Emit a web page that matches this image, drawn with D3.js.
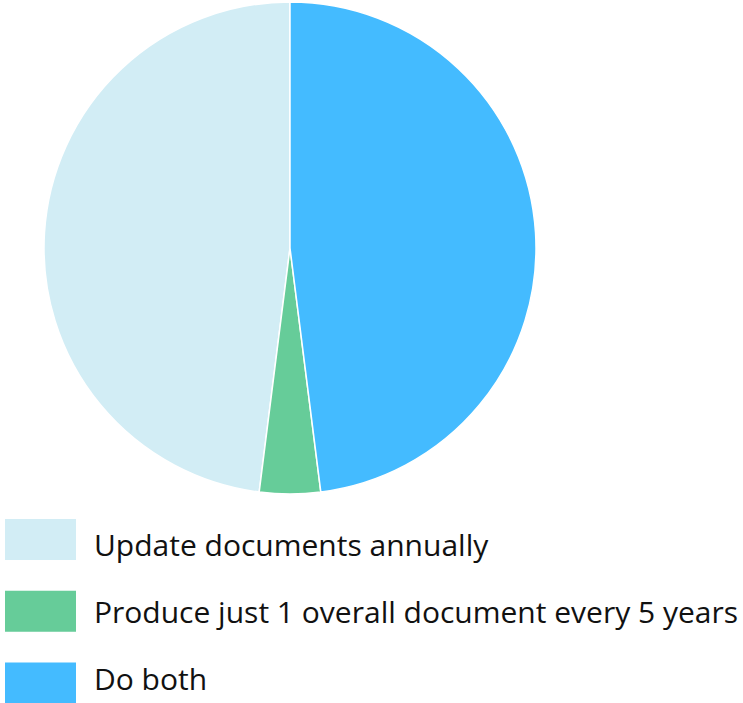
<!DOCTYPE html>
<html>
<head>
<meta charset="utf-8">
<script src="https://cdn.jsdelivr.net/npm/d3@7"></script>
<style>
  html, body { margin: 0; padding: 0; background: #fff; }
  svg { display: block; }
</style>
</head>
<body>
<svg id="chart" width="743" height="703"></svg>
<script>
// Survey answers and their share of respondents
const categories = [
  "Update documents annually",
  "Produce just 1 overall document every 5 years",
  "Do both"
];
const values = [12, 1, 12];
const colors = ["#d2edf5", "#66cc99", "#44bbff"];

const svg = d3.select("#chart");
const cx = 290, cy = 248, radius = 246;

// Slices run counter-clockwise from twelve o'clock in data order
const pie = d3.pie().sort(null).startAngle(0).endAngle(-2 * Math.PI);
const arc = d3.arc().innerRadius(0).outerRadius(radius);
const color = d3.scaleOrdinal().domain(categories).range(colors);

const arcs = pie(values).map((d, i) => Object.assign(d, { name: categories[i] }));

svg.append("g")
  .attr("transform", `translate(${cx},${cy})`)
  .selectAll("path")
  .data(arcs)
  .join("path")
  .attr("d", arc)
  .attr("fill", d => color(d.name))
  .attr("stroke", "#ffffff")
  .attr("stroke-width", 1.5)
  .attr("stroke-linejoin", "round");

// Legend below the pie
const swatchY = d3.scalePoint().domain(categories).range([539.5, 683]);
const labelY = d3.scalePoint().domain(categories).range([556, 690]);

const legend = svg.append("g");

legend.selectAll("rect")
  .data(categories)
  .join("rect")
  .attr("x", 5)
  .attr("y", d => swatchY(d) - 20.5)
  .attr("width", 71)
  .attr("height", 41)
  .attr("fill", d => color(d));

legend.selectAll("text")
  .data(categories)
  .join("text")
  .attr("x", 94)
  .attr("y", d => labelY(d))
  .attr("font-family", "'Open Sans', 'Noto Sans', sans-serif")
  .attr("font-size", 30)
  .attr("fill", "#111")
  .text(d => d);
</script>
</body>
</html>
